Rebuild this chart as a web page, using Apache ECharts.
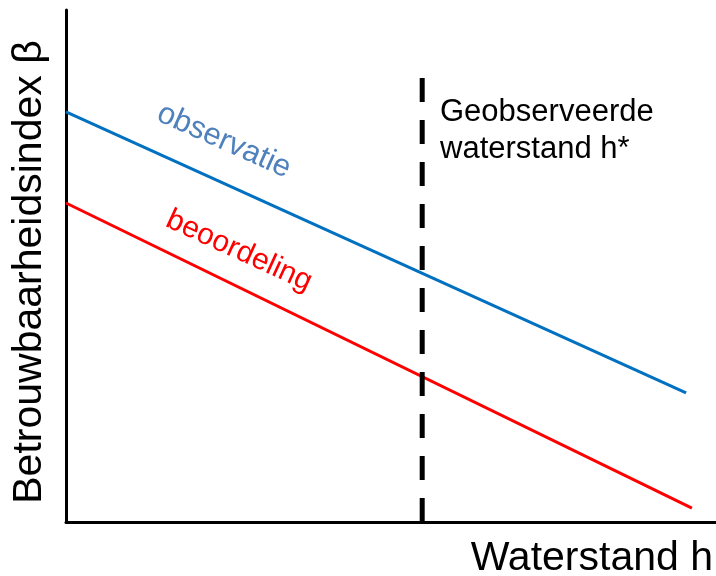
<!DOCTYPE html>
<html>
<head>
<meta charset="utf-8">
<script src="https://cdn.jsdelivr.net/npm/echarts@6/dist/echarts.min.js"></script>
<style>html,body{margin:0;padding:0;background:#fff;}#c{width:716px;height:576px;}</style>
</head>
<body>
<div id="c"></div>
<script>
// Data (conceptual, axis units 0-100)
const observatieH = [0, 95.4];
const observatieBeta = [80.1, 25.2];
const beoordelingH = [0, 96.3];
const beoordelingBeta = [62.3, 2.7];
const hStar = 54.8;
const hStarBeta = [86.7, 0];

const chart = echarts.init(document.getElementById('c'), null, {renderer: 'canvas'});
const FONT = '"Liberation Sans", Arial, sans-serif';

const option = {
  animation: false,
  grid: {left: 66, right: 0, top: 10, bottom: 54},
  xAxis: {
    type: 'value', min: 0, max: 100,
    axisLine: {show: true, lineStyle: {color: '#000', width: 3}},
    axisTick: {show: false}, axisLabel: {show: false}, splitLine: {show: false}
  },
  yAxis: {
    type: 'value', min: 0, max: 100,
    axisLine: {show: true, lineStyle: {color: '#000', width: 3}},
    axisTick: {show: false}, axisLabel: {show: false}, splitLine: {show: false}
  },
  series: [
    {
      type: 'line', name: 'observatie', symbol: 'none',
      data: observatieH.map((h, i) => [h, observatieBeta[i]]),
      lineStyle: {color: '#0070C0', width: 3}
    },
    {
      type: 'line', name: 'beoordeling', symbol: 'none',
      data: beoordelingH.map((h, i) => [h, beoordelingBeta[i]]),
      lineStyle: {color: '#FF0000', width: 3}
    },
    {
      type: 'line', name: 'hstar', symbol: 'none',
      data: hStarBeta.map(b => [hStar, b]),
      lineStyle: {color: '#000', width: 5, type: [24, 18]}
    }
  ],
  graphic: [
    {type: 'text', x: 30, y: 272, rotation: Math.PI / 2,
     style: {text: 'Betrouwbaarheidsindex β', font: '41px ' + FONT, fill: '#000', align: 'center', verticalAlign: 'middle'}},
    {type: 'text', x: 713, y: 559,
     style: {text: 'Waterstand h', font: '41px ' + FONT, fill: '#000', align: 'right', verticalAlign: 'middle'}},
    {type: 'text', x: 440, y: 112,
     style: {text: 'Geobserveerde', font: '31px ' + FONT, fill: '#000', align: 'left', verticalAlign: 'middle'}},
    {type: 'text', x: 440, y: 149,
     style: {text: 'waterstand h*', font: '31px ' + FONT, fill: '#000', align: 'left', verticalAlign: 'middle'}},
    {type: 'text', x: 224, y: 141, rotation: -0.42,
     style: {text: 'observatie', font: '31px ' + FONT, fill: '#4F81BD', align: 'center', verticalAlign: 'middle'}},
    {type: 'text', x: 239, y: 251, rotation: -0.43,
     style: {text: 'beoordeling', font: '30px ' + FONT, fill: '#FF0000', align: 'center', verticalAlign: 'middle'}}
  ]
};
chart.setOption(option);
</script>
</body>
</html>
